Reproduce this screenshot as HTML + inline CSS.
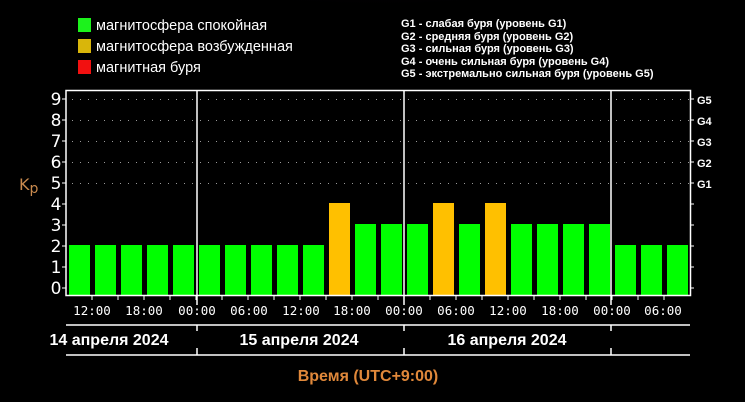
<!DOCTYPE html>
<html><head><meta charset="utf-8"><style>
html,body{margin:0;padding:0;background:#000;}
svg{display:block;}
.lg{font-family:"Liberation Sans Narrow","Liberation Sans",sans-serif;fill:#fff;}
</style></head><body>
<svg width="745" height="402" xmlns="http://www.w3.org/2000/svg">
<defs>
<radialGradient id="hz" cx="0.5" cy="0" r="0.6">
<stop offset="0" stop-color="#3a1448" stop-opacity="0.8"/>
<stop offset="1" stop-color="#000" stop-opacity="0"/>
</radialGradient>
</defs>
<rect width="745" height="402" fill="#000"/>
<ellipse cx="380" cy="0" rx="230" ry="40" fill="url(#hz)"/>
<rect x="78" y="18" width="13" height="14" fill="#1cf21c"/>
<rect x="78" y="39" width="13" height="14" fill="#d9b60a"/>
<rect x="78" y="60" width="13" height="14" fill="#f21010"/>
<g class="lg" font-size="14.5">
<text x="96" y="30">магнитосфера спокойная</text>
<text x="96" y="51">магнитосфера возбужденная</text>
<text x="96" y="72">магнитная буря</text>
</g>
<g class="lg" font-size="11" font-weight="bold">
<text x="401" y="27">G1 - слабая буря (уровень G1)</text>
<text x="401" y="40">G2 - средняя буря (уровень G2)</text>
<text x="401" y="52">G3 - сильная буря (уровень G3)</text>
<text x="401" y="65">G4 - очень сильная буря (уровень G4)</text>
<text x="401" y="77">G5 - экстремально сильная буря (уровень G5)</text>
</g>
<g stroke="#999" stroke-width="1" stroke-dasharray="1 7">
<line x1="72" y1="99.5" x2="690" y2="99.5"/>
<line x1="72" y1="120.5" x2="690" y2="120.5"/>
<line x1="72" y1="141.5" x2="690" y2="141.5"/>
<line x1="72" y1="162.5" x2="690" y2="162.5"/>
<line x1="72" y1="183.5" x2="690" y2="183.5"/>
</g>
<g fill="#00ff00">
<rect x="69" y="245" width="21" height="50"/>
<rect x="95" y="245" width="21" height="50"/>
<rect x="121" y="245" width="21" height="50"/>
<rect x="147" y="245" width="21" height="50"/>
<rect x="173" y="245" width="21" height="50"/>
<rect x="199" y="245" width="21" height="50"/>
<rect x="225" y="245" width="21" height="50"/>
<rect x="251" y="245" width="21" height="50"/>
<rect x="277" y="245" width="21" height="50"/>
<rect x="303" y="245" width="21" height="50"/>
<rect x="355" y="224" width="21" height="71"/>
<rect x="381" y="224" width="21" height="71"/>
<rect x="407" y="224" width="21" height="71"/>
<rect x="459" y="224" width="21" height="71"/>
<rect x="511" y="224" width="21" height="71"/>
<rect x="537" y="224" width="21" height="71"/>
<rect x="563" y="224" width="21" height="71"/>
<rect x="589" y="224" width="21" height="71"/>
<rect x="615" y="245" width="21" height="50"/>
<rect x="641" y="245" width="21" height="50"/>
<rect x="667" y="245" width="21" height="50"/>
</g>
<g fill="#ffc000">
<rect x="329" y="203" width="21" height="92"/>
<rect x="433" y="203" width="21" height="92"/>
<rect x="485" y="203" width="21" height="92"/>
</g>
<g stroke="#fff" stroke-width="1.5" fill="none">
<rect x="66" y="90.5" width="624.5" height="205"/>
<line x1="197" y1="90" x2="197" y2="305"/>
<line x1="404" y1="90" x2="404" y2="305"/>
<line x1="611" y1="90" x2="611" y2="305"/>
<line x1="66" y1="325" x2="690" y2="325"/>
<line x1="66" y1="355" x2="690" y2="355"/>
<line x1="197" y1="325" x2="197" y2="331"/><line x1="404" y1="325" x2="404" y2="331"/><line x1="611" y1="325" x2="611" y2="331"/>
<line x1="197" y1="348" x2="197" y2="355"/><line x1="404" y1="348" x2="404" y2="355"/><line x1="611" y1="348" x2="611" y2="355"/>
</g>
<path stroke="#fff" stroke-width="1" fill="none" d="M92 295v5M118 295v5M144 295v5M170 295v5M196 295v5M222 295v5M248 295v5M274 295v5M300 295v5M326 295v5M352 295v5M378 295v5M404 295v5M430 295v5M456 295v5M482 295v5M508 295v5M534 295v5M560 295v5M586 295v5M612 295v5M638 295v5M664 295v5
M62 288h4M62 267h4M62 246h4M62 225h4M62 204h4M62 183h4M62 162h4M62 141h4M62 120h4M62 99h4
M690 288h4M690 267h4M690 246h4M690 225h4M690 204h4M690 183h4M690 162h4M690 141h4M690 120h4M690 99h4"/>
<g font-family="DejaVu Sans, sans-serif" font-size="17" fill="#fff" text-anchor="middle">
<text x="56" y="294">0</text><text x="56" y="273">1</text><text x="56" y="252">2</text><text x="56" y="231">3</text><text x="56" y="210">4</text>
<text x="56" y="189">5</text><text x="56" y="168">6</text><text x="56" y="147">7</text><text x="56" y="126">8</text><text x="56" y="105">9</text>
</g>
<text x="19" y="190" font-family="DejaVu Sans, sans-serif" font-size="16" fill="#c98a4e">K<tspan font-size="14" dy="3">p</tspan></text>
<g font-family="Liberation Sans Narrow,Liberation Sans,sans-serif" font-size="11" font-weight="bold" fill="#fff">
<text x="697" y="104">G5</text><text x="697" y="125">G4</text><text x="697" y="146">G3</text><text x="697" y="167">G2</text><text x="697" y="188">G1</text>
</g>
<g font-family="DejaVu Sans Mono, monospace" font-size="12.5" fill="#fff" text-anchor="middle">
<text x="92" y="315">12:00</text><text x="144" y="315">18:00</text><text x="197" y="315">00:00</text><text x="249" y="315">06:00</text>
<text x="301" y="315">12:00</text><text x="352" y="315">18:00</text><text x="404" y="315">00:00</text><text x="456" y="315">06:00</text>
<text x="508" y="315">12:00</text><text x="560" y="315">18:00</text><text x="612" y="315">00:00</text><text x="663" y="315">06:00</text>
</g>
<g font-family="Liberation Sans Narrow,Liberation Sans,sans-serif" font-size="16" font-weight="bold" fill="#fff" text-anchor="middle">
<text x="109" y="345">14 апреля 2024</text>
<text x="299" y="345">15 апреля 2024</text>
<text x="507" y="345">16 апреля 2024</text>
</g>
<text x="368" y="381" text-anchor="middle" font-family="Liberation Sans Narrow,Liberation Sans,sans-serif" font-size="16" font-weight="bold" fill="#e0883a">Время (UTC+9:00)</text>
</svg>
</body></html>
